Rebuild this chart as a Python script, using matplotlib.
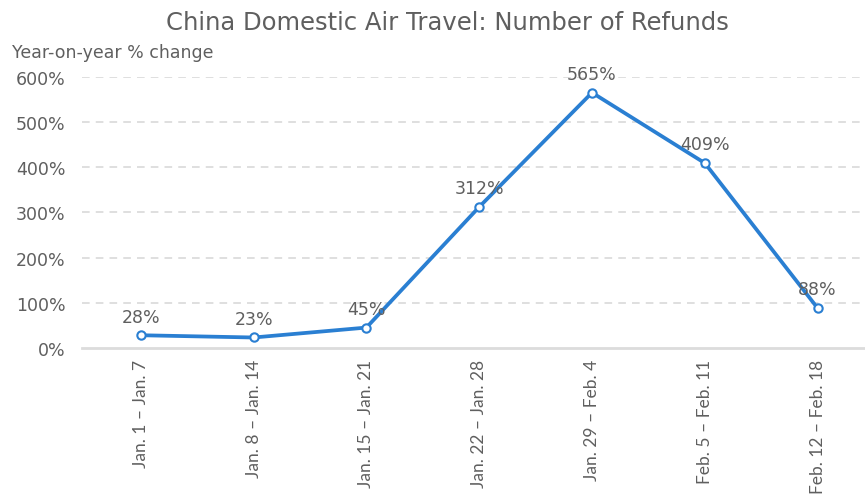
import matplotlib.pyplot as plt

weeks = ["Jan. 1 – Jan. 7", "Jan. 8 – Jan. 14", "Jan. 15 – Jan. 21",
         "Jan. 22 – Jan. 28", "Jan. 29 – Feb. 4", "Feb. 5 – Feb. 11",
         "Feb. 12 – Feb. 18"]
refunds_pct = [28, 23, 45, 312, 565, 409, 88]
yticks = [0, 100, 200, 300, 400, 500, 600]

plt.rcParams['font.family'] = ['DejaVu Sans']
grey = "#5f5f5f"
blue = "#2a7fd2"

fig = plt.figure(figsize=(8.65, 5.02), dpi=100)
ax = fig.add_axes([0.095, 0.305, 0.905, 0.54])

x = list(range(len(weeks)))
ax.plot(x, refunds_pct, color=blue, lw=2.7, marker="o", ms=6,
        mfc="white", mec=blue, mew=1.5, zorder=3, clip_on=False)

for xi, v in zip(x, refunds_pct):
    ax.annotate(f"{v}%", (xi, v), xytext=(0, 7), textcoords="offset points",
                ha="center", va="bottom", fontsize=12.5, color=grey, zorder=4)

ax.set_xlim(-0.52, 6.42)
ax.set_ylim(0, 600)
ax.set_yticks(yticks)
ax.set_yticklabels([f"{t}%" for t in yticks], fontsize=12.5, color=grey)
ax.set_xticks(x)
ax.set_xticklabels(weeks, rotation=90, fontsize=12.5, color=grey, va="top",
                   family=['Lato', 'DejaVu Sans'])
ax.tick_params(axis="y", length=0, pad=12)
ax.tick_params(axis="x", length=0, pad=8)

for t in yticks[1:]:
    ax.axhline(t, color="#d6d6d6", lw=1.1, ls=(0, (5, 4)), zorder=1)

for s in ["top", "right", "left"]:
    ax.spines[s].set_visible(False)
ax.spines["bottom"].set_color("#dcdcdc")
ax.spines["bottom"].set_linewidth(2)

fig.text(0.517, 0.955, "China Domestic Air Travel: Number of Refunds",
         ha="center", va="center", fontsize=17.5, color=grey)
fig.text(0.014, 0.895, "Year-on-year % change", ha="left", va="center",
         fontsize=12.5, color=grey)

fig.savefig("out.png", dpi=100)
